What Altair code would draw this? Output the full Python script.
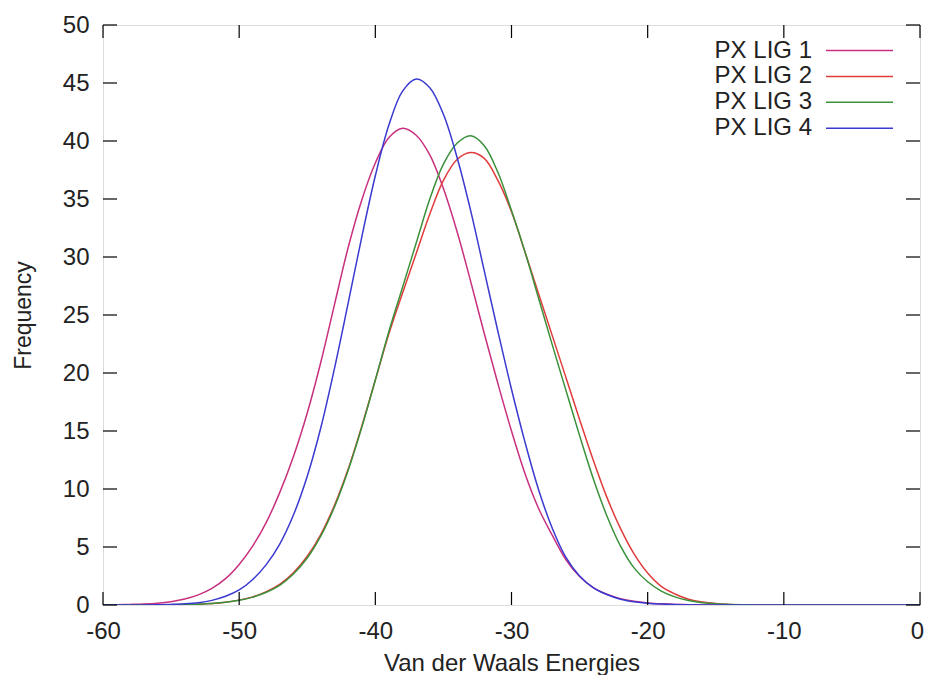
import altair as alt
import pandas as pd

# ---- data ----
x_vals = list(range(-60, 1))

lig1 = [0.01, 0.02, 0.05, 0.09, 0.16, 0.29, 0.51, 0.87, 1.43, 2.27,
        3.5, 5.1, 7.15, 9.75, 12.85, 16.55, 20.95, 25.9, 30.8, 34.9,
        38.1, 40.3, 41.1, 40.5, 38.8, 35.9, 32.2, 27.9, 23.4, 19.1,
        15.0, 11.3, 8.3, 6.0, 3.9, 2.45, 1.5, 0.93, 0.55, 0.32,
        0.18, 0.1, 0.05, 0.03, 0.01, 0, 0, 0, 0, 0,
        0, 0, 0, 0, 0, 0, 0, 0, 0, 0, 0]

lig2 = [0, 0, 0, 0.01, 0.01, 0.02, 0.04, 0.07, 0.13, 0.24,
        0.42, 0.7, 1.15, 1.8, 2.8, 4.2, 6.1, 8.6, 11.7, 15.4,
        19.4, 23.4, 26.9, 30.3, 33.7, 36.6, 38.4, 39.0, 38.5, 36.6,
        33.9, 30.4, 26.8, 23.2, 19.6, 16.0, 12.5, 9.3, 6.6, 4.4,
        2.75, 1.6, 0.95, 0.5, 0.25, 0.12, 0.05, 0.02, 0.01, 0,
        0, 0, 0, 0, 0, 0, 0, 0, 0, 0, 0]

lig3 = [0, 0, 0, 0.01, 0.01, 0.02, 0.04, 0.07, 0.13, 0.23,
        0.4, 0.68, 1.1, 1.72, 2.7, 4.05, 5.95, 8.45, 11.6, 15.3,
        19.4, 23.6, 27.4, 31.2, 35.0, 38.0, 39.8, 40.45, 39.6, 37.3,
        34.0, 30.4, 26.4, 22.4, 18.5, 14.6, 10.9, 7.7, 5.1, 3.2,
        2.0, 1.2, 0.7, 0.38, 0.2, 0.1, 0.05, 0.02, 0.01, 0,
        0, 0, 0, 0, 0, 0, 0, 0, 0, 0, 0]

lig4 = [0, 0, 0.01, 0.01, 0.02, 0.05, 0.1, 0.2, 0.4, 0.75,
        1.3, 2.2, 3.5, 5.3, 7.8, 11.1, 15.3, 20.4, 26.0, 31.7,
        37.0, 41.4, 44.3, 45.35, 44.6, 42.3, 38.6, 34.0, 28.8, 23.6,
        18.6, 14.0, 9.9, 6.6, 4.1, 2.5, 1.5, 0.9, 0.5, 0.28,
        0.15, 0.08, 0.04, 0.02, 0.01, 0, 0, 0, 0, 0,
        0, 0, 0, 0, 0, 0, 0, 0, 0, 0, 0]

series_names = ["PX LIG 1", "PX LIG 2", "PX LIG 3", "PX LIG 4"]
series_colors = ["#c8307f", "#e03c3c", "#3a913a", "#3a3ad0"]
x_ticks = [-60, -50, -40, -30, -20, -10, 0]
y_ticks = [0, 5, 10, 15, 20, 25, 30, 35, 40, 45, 50]

W, H = 817, 580
FONT = "Liberation Sans"
TXT = "#222222"

rows = []
for name, ys in zip(series_names, [lig1, lig2, lig3, lig4]):
    for xv, yv in zip(x_vals, ys):
        rows.append({"x": xv, "y": yv, "series": name})
df = pd.DataFrame(rows)

xscale = alt.Scale(domain=[-60, 0], nice=False, zero=False)
yscale = alt.Scale(domain=[0, 50], nice=False)
cscale = alt.Scale(domain=series_names, range=series_colors)

lines = alt.Chart(df).mark_line(strokeWidth=1.5, interpolate="catmull-rom", clip=True).encode(
    x=alt.X("x:Q", scale=xscale,
            axis=alt.Axis(values=x_ticks, title="Van der Waals Energies",
                          labelExpr="toString(datum.value)", labelFlush=False,
                          labelOverlap=False,
                          labelOffset={"expr": "datum.value == 0 ? -3 : 0"},
                          grid=False, ticks=False, tickSize=0, domain=False,
                          labelFontSize=24, labelPadding=14, labelColor=TXT,
                          labelFont=FONT, titleFont=FONT, titleFontSize=24,
                          titleFontWeight="normal", titleColor=TXT,
                          titleX=W / 2, titleY=65, titleBaseline="alphabetic",
                          titleAlign="center")),
    y=alt.Y("y:Q", scale=yscale,
            axis=alt.Axis(values=y_ticks, title="Frequency",
                          labelExpr="toString(datum.value)", labelFlush=False,
                          labelOverlap=False,
                          grid=False, ticks=False, tickSize=0, domain=False,
                          labelFontSize=24, labelPadding=14, labelColor=TXT,
                          labelFont=FONT, titleFont=FONT, titleFontSize=23,
                          titleFontWeight="normal", titleColor=TXT,
                          titleAngle=270, titleX=-73, titleY=H / 2,
                          titleBaseline="alphabetic", titleAlign="center")),
    color=alt.Color("series:N", scale=cscale, sort=series_names, legend=None),
)

xt = pd.DataFrame({"x": x_ticks})
yt = pd.DataFrame({"y": y_ticks})

tick_bottom = alt.Chart(xt).mark_rule(color="black", strokeWidth=1.2).encode(
    x=alt.X("x:Q", scale=xscale), y=alt.value(H), y2=alt.value(H - 13))
tick_top = alt.Chart(xt).mark_rule(color="black", strokeWidth=1.2).encode(
    x=alt.X("x:Q", scale=xscale), y=alt.value(0), y2=alt.value(13))
tick_left = alt.Chart(yt).mark_rule(color="black", strokeWidth=1.2).encode(
    y=alt.Y("y:Q", scale=yscale), x=alt.value(0), x2=alt.value(14))
tick_right = alt.Chart(yt).mark_rule(color="black", strokeWidth=1.2).encode(
    y=alt.Y("y:Q", scale=yscale), x=alt.value(W), x2=alt.value(W - 14))

# gnuplot-style key: label right-aligned, line sample to its right
leg_base = alt.Chart(pd.DataFrame({"series": series_names})).transform_window(
    idx="row_number()"
).transform_calculate(py="25.5 + (datum.idx - 1) * 25.9")

leg_text = leg_base.mark_text(align="right", baseline="middle", fontSize=24,
                              font=FONT, color=TXT).encode(
    x=alt.value(709), y=alt.Y("py:Q", scale=None, axis=None), text="series:N")
leg_line = leg_base.mark_rule(strokeWidth=1.5).encode(
    x=alt.value(723), x2=alt.value(790), y=alt.Y("py:Q", scale=None, axis=None),
    color=alt.Color("series:N", scale=cscale, legend=None))

chart = alt.layer(lines, tick_bottom, tick_top, tick_left, tick_right,
                  leg_text, leg_line).properties(
    width=W, height=H,
    autosize=alt.AutoSizeParams(type="none"),
    padding={"left": 95, "top": 17, "right": 4, "bottom": 70},
    background="white",
).configure_view(stroke="black", strokeWidth=1.5).configure(font=FONT)

chart.save("out.html", embed_options={"renderer": "svg", "actions": False})
